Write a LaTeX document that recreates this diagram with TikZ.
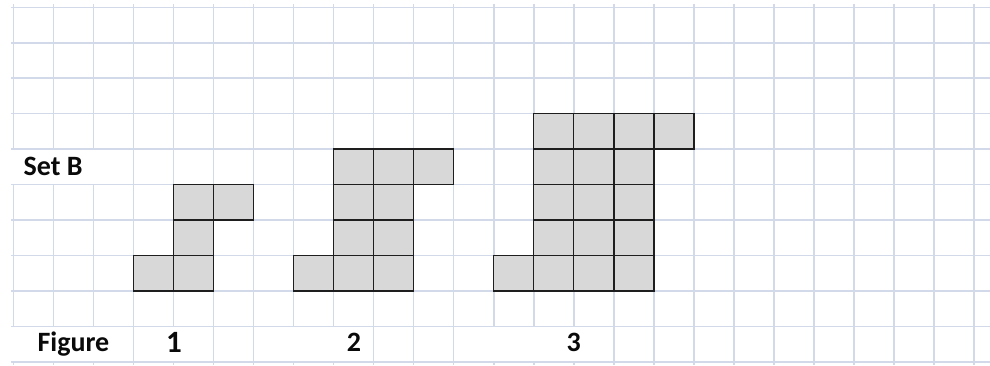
\documentclass[tikz,border=0pt]{standalone}
\usepackage{fontspec}
\setmainfont{Carlito}
\definecolor{gridc}{RGB}{210,217,233}
\definecolor{cellgray}{RGB}{216,216,216}
\definecolor{edgec}{RGB}{30,30,30}
\definecolor{textc}{RGB}{10,10,10}
\newcommand\sqcell[2]{\draw[cellbox] ({13.4+40.03*#1},{7.3+35.45*#2}) rectangle ++(40.03,35.45);}
\begin{document}
\begin{tikzpicture}[x=1pt,y=-1pt,
  gridline/.style={draw=gridc,line width=1.5pt},
  cellbox/.style={fill=cellgray,draw=edgec,line width=1.3pt},
  label/.style={font=\fontsize{28}{32}\selectfont\bfseries,text=textc,inner sep=0pt}]
\useasboundingbox (0,0) rectangle (990,365);
\fill[white] (0,0) rectangle (990,365);
% horizontal grid lines
\foreach \j in {0,...,10} \draw[gridline] (11,{7.3+35.45*\j}) -- (990,{7.3+35.45*\j});
% vertical grid lines, outside the merged rows
\foreach \k in {0,...,24} {
  \draw[gridline] ({13.4+40.03*\k},4) -- ({13.4+40.03*\k},{7.3+35.45*4});
  \draw[gridline] ({13.4+40.03*\k},{7.3+35.45*5}) -- ({13.4+40.03*\k},{7.3+35.45*9});
  \draw[gridline] ({13.4+40.03*\k},{7.3+35.45*10}) -- ({13.4+40.03*\k},365);
}
% Set B row
\foreach \k in {3,...,24} \draw[gridline] ({13.4+40.03*\k},{7.3+35.45*4}) -- ({13.4+40.03*\k},{7.3+35.45*5});
% Figure row
\foreach \k in {3,5,6,9,10,11,15,16,17,18,19,20,21,22,23,24} \draw[gridline] ({13.4+40.03*\k},{7.3+35.45*9}) -- ({13.4+40.03*\k},{7.3+35.45*10});
% Figure 1
\foreach \c/\r in {3/7,4/7,4/6,4/5,5/5} {\sqcell{\c}{\r}}
% Figure 2
\foreach \c/\r in {7/7,8/7,9/7,8/6,9/6,8/5,9/5,8/4,9/4,10/4} {\sqcell{\c}{\r}}
% Figure 3
\foreach \c/\r in {12/7,13/7,14/7,15/7,13/6,14/6,15/6,13/5,14/5,15/5,13/4,14/4,15/4,13/3,14/3,15/3,16/3} {\sqcell{\c}{\r}}
% labels
\node[label,anchor=base west] (setb) at (23.5,175.5) {Set B};
\node[label,anchor=base] (fig) at (73.4,351.5) {Figure};
\node[label,anchor=base,font=\fontsize{31}{34}\selectfont\bfseries] (one) at (174,352) {1};
\node[label,anchor=base] (two) at (354,351.5) {2};
\node[label,anchor=base] (three) at (573.8,351.5) {3};
\end{tikzpicture}
\end{document}
